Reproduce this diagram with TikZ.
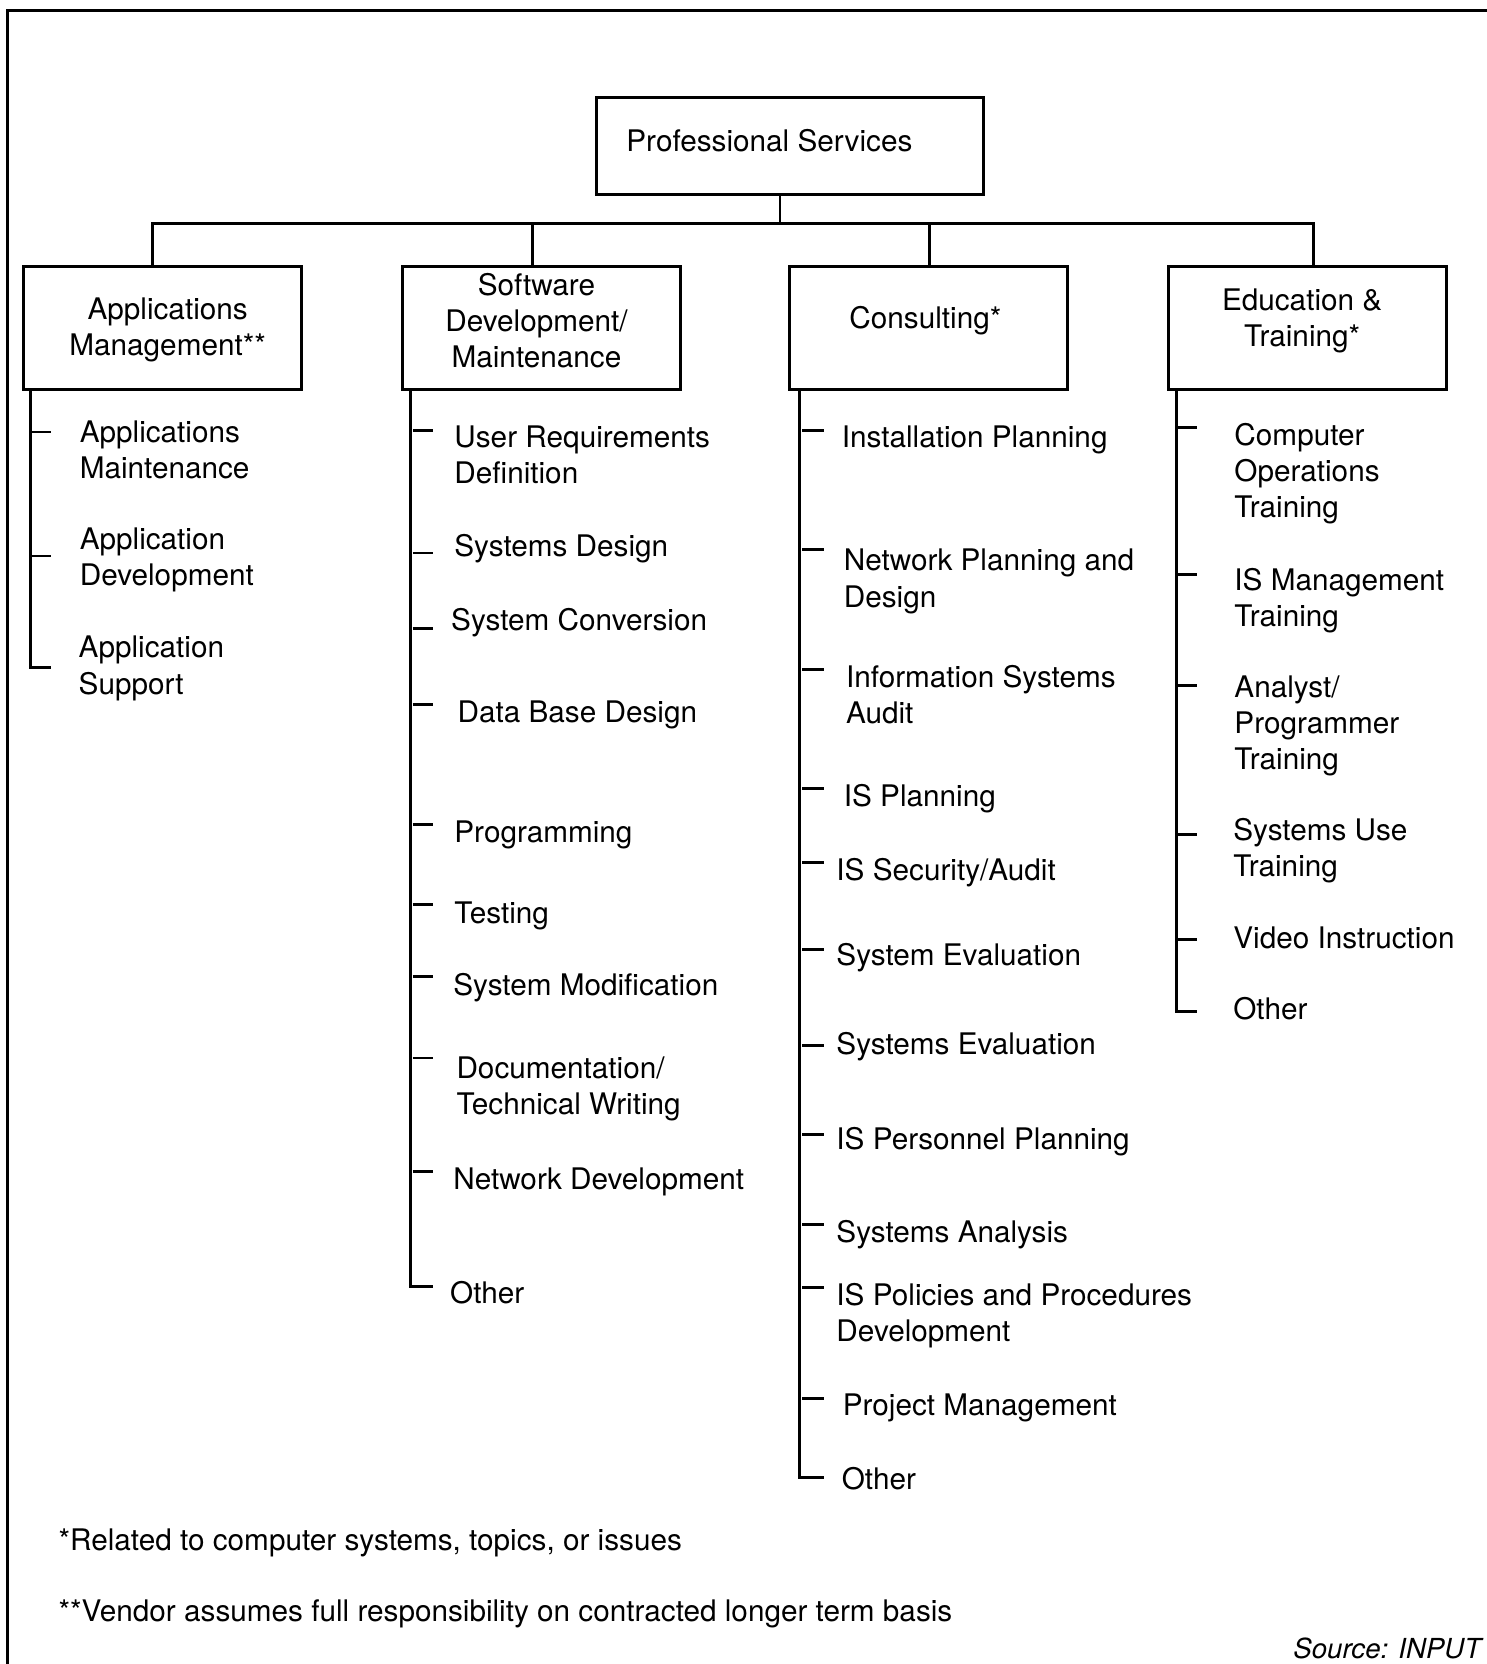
\documentclass[tikz,border=0pt]{standalone}
\usepackage{fontspec}
\setmainfont{TeX Gyre Heros}
\begin{document}
\begin{tikzpicture}[x=1pt,y=-1pt,
  every node/.style={font=\fontsize{28}{34}\selectfont, inner sep=0pt},
  catbox/.style={draw, line width=2.8pt, minimum width=262pt, minimum height=116pt},
  conn/.style={line width=2.8pt, line join=miter},
  tree/.style={line width=2.6pt, line join=miter},
  item/.style={anchor=base west, align=left}]
\useasboundingbox (0,0) rectangle (1401,1568);
% frame
\draw[line width=2.6pt] (7,1570) -- (7,10) -- (1403,10);
% boxes
\node[catbox, minimum width=365pt, minimum height=91pt,
  label={[xshift=-19.5pt,yshift=4.5pt]center:Professional Services}] (ps) at (744.5,137.5) {};
\node[catbox, label={[align=center,xshift=5pt,yshift=-2pt]center:Applications\\Management**}] (am) at (153,309) {};
\node[catbox, label={[align=center,xshift=-5pt,yshift=7pt]center:Software\\Development/\\Maintenance}] (sw) at (510.5,309) {};
\node[catbox, label={[xshift=-3pt,yshift=7pt]center:Consulting*}] (co) at (875,309) {};
\node[catbox, label={[align=center,xshift=-5pt,yshift=7pt]center:Education \&\\Training*}] (et) at (1232,309) {};
% connectors
\coordinate (bus) at (735,211);
\coordinate (d1) at (144,211);
\coordinate (d2) at (502,211);
\coordinate (d3) at (876,211);
\coordinate (d4) at (1238,211);
\draw[conn] (ps.south -| bus) -- (bus);
\draw[conn] (d1 |- am.north) -- (d1) -- (d4) -- (d4 |- et.north);
\draw[conn] (d2) -- (d2 |- sw.north);
\draw[conn] (d3) -- (d3 |- co.north);
% column 1
\draw[tree] ([xshift=8pt]am.south west) |- (48,629);
\foreach \y in {407,524} \draw[tree] (30,\y) -- (48,\y);
\node[item] (a1) at (75,451) {Applications\\Maintenance};
\node[item] (a2) at (75,552) {Application\\Development};
\node[item] (a3) at (74,654) {Application\\Support};
% column 2
\draw[tree] ([xshift=9pt]sw.south west) |- (408,1212);
\foreach \y in {406,521,592,664,777,852,920,997,1104} \draw[tree] (389,\y) -- (408,\y);
\node[item] (s1) at (428,456) {User Requirements\\Definition};
\node[item] (s2) at (428,524) {Systems Design};
\node[item] (s3) at (425,594) {System Conversion};
\node[item] (s4) at (431,681) {Data Base Design};
\node[item] (s5) at (428,794) {Programming};
\node[item] (s6) at (428,870) {Testing};
\node[item] (s7) at (427,938) {System Modification};
\node[item] (s8) at (430,1050) {Documentation/\\Technical Writing};
\node[item] (s9) at (427,1121) {Network Development};
\node[item] (s10) at (424,1228) {Other};
% column 3
\draw[tree] ([xshift=11pt]co.south west) |- (776,1392);
\foreach \y in {406,518,631,743,813,895,985,1069,1154,1213,1318} \draw[tree] (756,\y) -- (776,\y);
\node[item] (c1) at (793,422) {Installation Planning};
\node[item] (c2) at (795,572) {Network Planning and\\Design};
\node[item] (c3) at (797,682) {Information Systems\\Audit};
\node[item] (c4) at (795,760) {IS Planning};
\node[item] (c5) at (788,830) {IS Security/Audit};
\node[item] (c6) at (788,910) {System Evaluation};
\node[item] (c7) at (788,994) {Systems Evaluation};
\node[item] (c8) at (788,1083) {IS Personnel Planning};
\node[item] (c9) at (788,1171) {Systems Analysis};
\node[item] (c10) at (788,1264) {IS Policies and Procedures\\Development};
\node[item] (c11) at (794,1334) {Project Management};
\node[item] (c12) at (793,1404) {Other};
% column 4
\draw[tree] ([xshift=9pt]et.south west) |- (1128,953);
\foreach \y in {403,541,646,786,885} \draw[tree] (1110,\y) -- (1128,\y);
\node[item] (e1) at (1163,488) {Computer\\Operations\\Training};
\node[item] (e2) at (1163,590) {IS Management\\Training};
\node[item] (e3) at (1163,725) {Analyst/\\Programmer\\Training};
\node[item] (e4) at (1162,826) {Systems Use\\Training};
\node[item] (e5) at (1162,894) {Video Instruction};
\node[item] (e6) at (1162,961) {Other};
% footnotes
\node[anchor=base west] (f1) at (55,1461) {*Related to computer systems, topics, or issues};
\node[anchor=base west] (f2) at (55,1528) {**Vendor assumes full responsibility on contracted longer term basis};
\node[anchor=base east, font=\fontsize{26}{30}\selectfont\itshape] (src) at (1396,1563) {Source: INPUT};
\end{tikzpicture}
\end{document}
